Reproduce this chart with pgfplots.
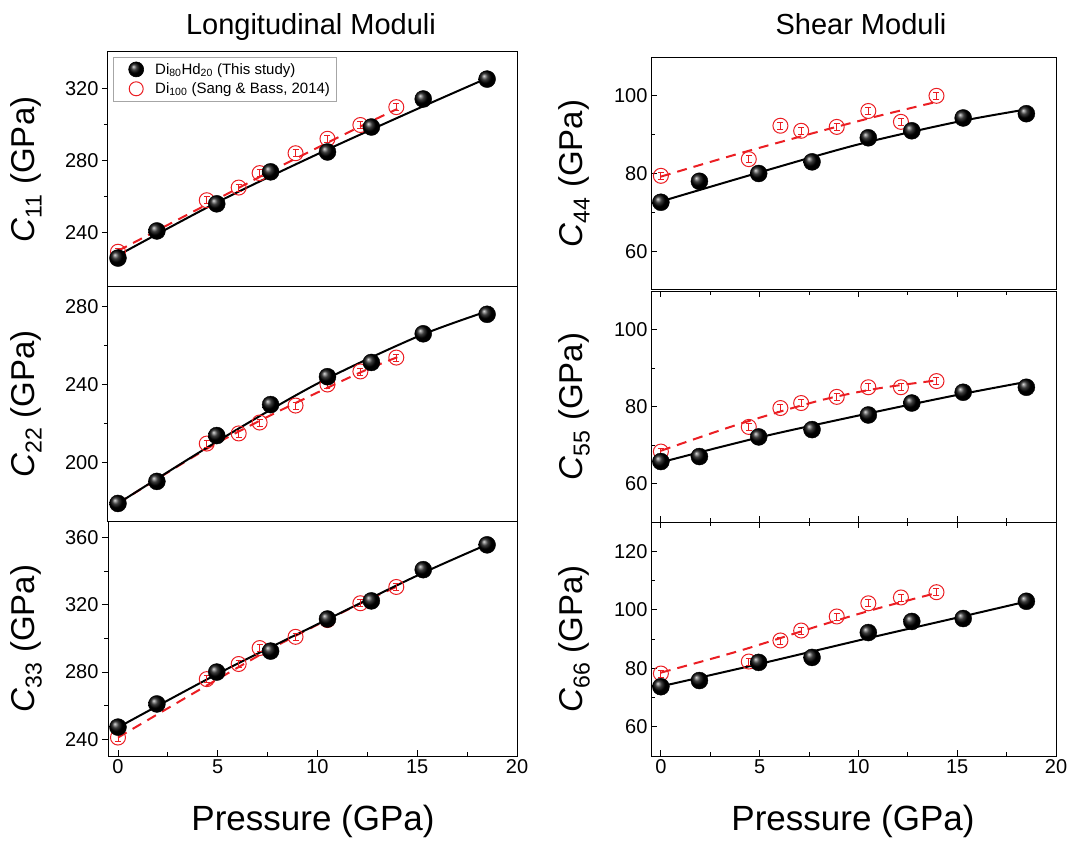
\documentclass[border=0pt]{standalone}
\usepackage{fontspec}
\setmainfont{Liberation Sans}
\usepackage{pgfplots}
\pgfplotsset{compat=1.18}
\usetikzlibrary{plotmarks}
\definecolor{myred}{RGB}{235,30,35}
\pgfplotsset{
  base/.style={scale only axis, anchor=south west,
    xmin=-0.5, xmax=20,
    axis line style={line width=1pt},
    every tick/.style={black, line width=0.9pt},
    major tick length=6pt, minor tick length=4pt,
    tick label style={font=\fontsize{20}{20}\selectfont},
    /pgf/number format/assume math mode=true,
    minor x tick num=1, minor y tick num=1,
    every axis y label/.style={at={(axis description cs:0,0.5)}, rotate=90, anchor=center, font=\fontsize{33}{33}\selectfont},
  },
  colL/.style={base, width=409pt, ytick pos=left, ytick align=outside, ylabel style={yshift=82pt}},
  colR/.style={base, width=405pt, ytick pos=left, ytick align=inside, ylabel style={yshift=77pt}},
  fitB/.style={black, line width=2pt, smooth, no markers, forget plot},
  fitR/.style={myred, line width=2pt, smooth, no markers, dash pattern=on 10pt off 7pt, forget plot},
  ptB/.style={only marks, mark=ball, mark size=8.5pt, mark options={ball color=black}, forget plot},
  ptR/.style={only marks, mark=o, myred, mark size=7.5pt, mark options={line width=1pt, fill=none}, forget plot,
    error bars/.cd, y dir=both, y fixed=#1,
    error bar style={myred, line width=0.8pt},
    error mark options={rotate=90, myred, mark size=3pt, line width=0.8pt}},
}
\begin{document}
\begin{tikzpicture}
\path[use as bounding box] (0pt,0pt) rectangle (1075pt,844pt);

% ---------- Left top: C11
\begin{axis}[colL, at={(108pt,557pt)}, height=235pt, ymin=210, ymax=340, ytick={240,280,320}, xtick=\empty,
  ylabel={\textit{C}\textsubscript{11} (GPa)},
  legend style={at={(rel axis cs:0.012,0.979)}, anchor=north west, font=\fontsize{15}{17}\selectfont,
    draw=gray!70, line width=0.6pt, inner xsep=4pt, inner ysep=4pt, row sep=3pt},
  legend image code/.code={\path[draw=none, fill=none] (0pt,0pt) -- (36pt,0pt); \draw[#1] plot coordinates {(19pt,0pt)};},
  legend cell align=left]
\addlegendimage{only marks, mark=ball, mark size=7.5pt, mark options={ball color=black}}
\addlegendimage{only marks, mark=o, myred, mark size=7pt, mark options={line width=1pt}}
\legend{{Di\textsubscript{80}Hd\textsubscript{20} (This study)}, {Di\textsubscript{100} (Sang \& Bass, 2014)}}
\addplot[fitR] coordinates {(0,230)(4,253)(8,276)(12,298)(14,308.5)};
\addplot[fitB] coordinates {(0,227.5)(5,257)(10,283.5)(15,308.5)(18.5,325.5)};
\addplot[ptR=1.9] coordinates {(0,229.5)(4.45,258)(6.05,265)(7.1,273)(8.9,284)(10.5,292)(12.15,299.6)(13.95,309.5)};
\addplot[ptB] coordinates {(0,226)(1.95,241)(4.95,256)(7.65,273.7)(10.5,284.7)(12.7,298.5)(15.3,314)(18.5,325)};
\end{axis}

% ---------- Left middle: C22
\begin{axis}[colL, at={(108pt,323pt)}, height=234pt, ymin=170, ymax=290, ytick={200,240,280}, xtick=\empty,
  ylabel={\textit{C}\textsubscript{22} (GPa)}]
\addplot[fitR] coordinates {(0,179)(4.45,207)(8,226)(12,245.5)(14,254)};
\addplot[fitB] coordinates {(0,179)(5,211)(10,240.5)(15,264.5)(18.5,277.5)};
\addplot[ptR=1.8] coordinates {(0,179)(4.45,209.7)(6.05,214.9)(7.1,220.5)(8.9,229.2)(10.5,240)(12.15,246.7)(13.95,253.8)};
\addplot[ptB] coordinates {(0,179)(1.95,190.3)(4.95,213.8)(7.65,229.7)(10.5,244)(12.7,251.3)(15.3,266)(18.5,276)};
\end{axis}

% ---------- Left bottom: C33
\begin{axis}[colL, at={(108pt,88pt)}, height=235pt, ymin=230, ymax=370, ytick={240,280,320,360},
  xtick={0,5,10,15,20}, xtick pos=lower, xtick align=inside,
  ylabel={\textit{C}\textsubscript{33} (GPa)}]
\addplot[fitR] coordinates {(0,241)(4.45,272)(8,296)(12,320)(14,331)};
\addplot[fitB] coordinates {(0,247)(5,279)(10,308.5)(15,337.5)(18.5,356)};
\addplot[ptR=2.1] coordinates {(0,241)(4.45,275.8)(6.05,284.8)(7.1,294.3)(8.9,301)(10.5,311)(12.15,321)(13.95,330.7)};
\addplot[ptB] coordinates {(0,247.2)(1.95,261)(4.95,280)(7.65,292.5)(10.5,311.6)(12.7,322.4)(15.3,341)(18.5,355.8)};
\end{axis}

% ---------- Right top: C44
\begin{axis}[colR, at={(651pt,554pt)}, height=233pt, ymin=50, ymax=110, ytick={60,80,100}, xtick=\empty,
  ylabel={\textit{C}\textsubscript{44} (GPa)}]
\addplot[fitR] coordinates {(0,79.2)(4,85.2)(8,90.8)(11,94.8)(14,98.5)};
\addplot[fitB] coordinates {(0,72.8)(5,80.3)(10,87.5)(15,93.3)(18.5,96.5)};
\addplot[ptR=0.9] coordinates {(0,79.4)(4.45,83.7)(6.05,92.3)(7.1,91)(8.9,92)(10.5,96.1)(12.15,93.3)(13.95,100)};
\addplot[ptB] coordinates {(0,72.6)(1.95,78)(4.95,80)(7.65,83)(10.5,89.2)(12.7,91)(15.3,94.3)(18.5,95.4)};
\end{axis}

% ---------- Right middle: C55
\begin{axis}[colR, at={(651pt,322pt)}, height=231pt, ymin=50, ymax=110, ytick={60,80,100},
  xtick={0,5,10,15,20}, xtick pos=both, xtick align=inside, xticklabels={},
  ylabel={\textit{C}\textsubscript{55} (GPa)}]
\addplot[fitR] coordinates {(0,68.5)(4,75.5)(8,81.5)(11,84.7)(14,86.8)};
\addplot[fitB] coordinates {(0,65.5)(5,72)(10.5,78.2)(15,83)(18.5,86.4)};
\addplot[ptR=0.9] coordinates {(0,68.3)(4.45,74.7)(6.05,79.6)(7.1,80.9)(8.9,82.5)(10.5,85)(12.15,85)(13.95,86.6)};
\addplot[ptB] coordinates {(0,65.7)(1.95,67)(4.95,72.1)(7.65,74)(10.5,77.8)(12.7,80.9)(15.3,83.7)(18.5,85)};
\end{axis}

% ---------- Right bottom: C66
\begin{axis}[colR, at={(651pt,88pt)}, height=234pt, ymin=50, ymax=130, ytick={60,80,100,120},
  xtick={0,5,10,15,20}, xtick pos=both, xticklabel pos=lower, xtick align=inside,
  ylabel={\textit{C}\textsubscript{66} (GPa)}]
\addplot[fitR] coordinates {(0,78.5)(4,86)(8,94.5)(11,100.5)(14,105.8)};
\addplot[fitB] coordinates {(0,73.8)(5,81.5)(10.5,90.3)(15,97.3)(18.5,102.8)};
\addplot[ptR=1.2] coordinates {(0,78.2)(4.45,82.3)(6.05,89.5)(7.1,92.9)(8.9,97.7)(10.5,102.2)(12.15,104.2)(13.95,106)};
\addplot[ptB] coordinates {(0,73.7)(1.95,75.8)(4.95,82)(7.65,83.7)(10.5,92.2)(12.7,96)(15.3,97)(18.5,102.9)};
\end{axis}

% titles and x labels
\node[anchor=base, font=\fontsize{29}{29}\selectfont] at (311pt,809pt) {Longitudinal Moduli};
\node[anchor=base, font=\fontsize{29}{29}\selectfont] at (861pt,809pt) {Shear Moduli};
\node[anchor=base, font=\fontsize{35}{35}\selectfont] at (313pt,14pt) {Pressure (GPa)};
\node[anchor=base, font=\fontsize{35}{35}\selectfont] at (853pt,14pt) {Pressure (GPa)};
\end{tikzpicture}
\end{document}
